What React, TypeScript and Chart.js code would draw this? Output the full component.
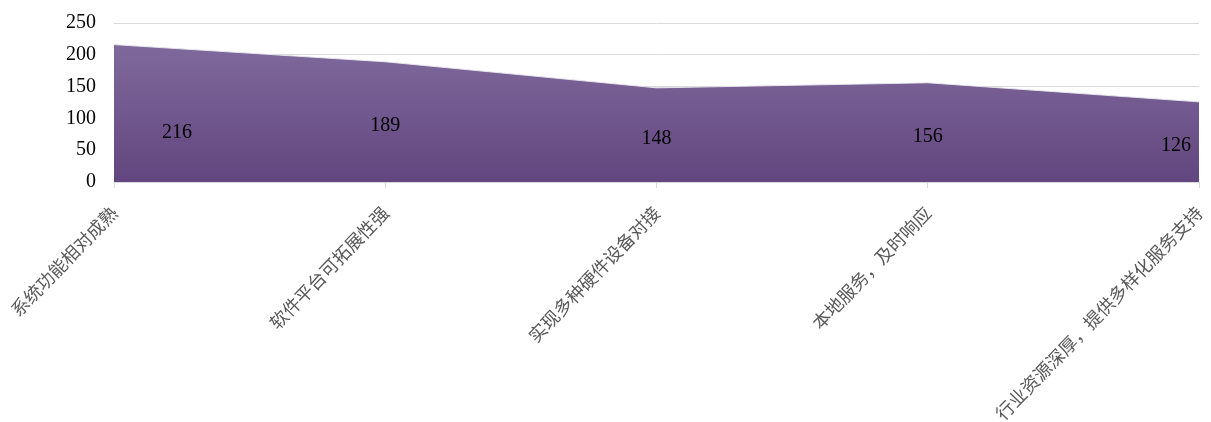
import React, { useEffect, useRef } from "react";
import { Chart, registerables } from "chart.js";

Chart.register(...registerables);

const categories = [
  "系统功能相对成熟",
  "软件平台可拓展性强",
  "实现多种硬件设备对接",
  "本地服务，及时响应",
  "行业资源深厚，提供多样化服务支持",
];
const values = [216, 189, 148, 156, 126];
const yTicks = [0, 50, 100, 150, 200, 250];

const valueLabelPlugin = {
  id: "valueLabels",
  afterDatasetsDraw(chart: any) {
    const { ctx, chartArea } = chart;
    const meta = chart.getDatasetMeta(0);
    const yScale = chart.scales.y;
    ctx.save();
    ctx.font = '20px "Liberation Serif", "Times New Roman", serif';
    ctx.fillStyle = "#000000";
    ctx.textAlign = "center";
    ctx.textBaseline = "middle";
    meta.data.forEach((pt: any, i: number) => {
      const v = values[i];
      const text = String(v);
      const w = ctx.measureText(text).width;
      let x = pt.x;
      let y = (yScale.getPixelForValue(v) + yScale.getPixelForValue(0)) / 2 + 4;
      if (i === 0) {
        x = pt.x + 63;
        y = (yScale.getPixelForValue(v * 0.72) + yScale.getPixelForValue(0)) / 2;
      }
      x = Math.min(x, chartArea.right - w / 2 - 8);
      ctx.fillText(text, x, y);
    });
    ctx.restore();
  },
};

export default function App() {
  const ref = useRef<HTMLCanvasElement | null>(null);
  useEffect(() => {
    document.body.style.margin = "0";
    const canvas = ref.current!;
    const chart = new Chart(canvas, {
      type: "line",
      data: {
        labels: categories,
        datasets: [
          {
            data: values,
            fill: "origin",
            borderWidth: 1,
            borderColor: "rgba(235,235,240,0.9)",
            pointRadius: 0,
            tension: 0,
            backgroundColor: (c: any) => {
              const area = c.chart.chartArea;
              if (!area) return "#72588f";
              const g = c.chart.ctx.createLinearGradient(0, area.top, 0, area.bottom);
              g.addColorStop(0, "#846fa1");
              g.addColorStop(1, "#62467f");
              return g;
            },
          },
        ],
      },
      options: {
        animation: false,
        responsive: false,
        maintainAspectRatio: false,
        layout: { padding: { top: 23, right: 12, left: 0, bottom: 0 } },
        plugins: {
          legend: { display: false },
          tooltip: { enabled: false },
        },
        scales: {
          x: {
            offset: false,
            grid: {
              display: true,
              drawOnChartArea: false,
              drawTicks: true,
              tickLength: 6,
              color: "#d9d9d9",
            },
            border: { display: true, color: "#d9d9d9", width: 1 },
            ticks: {
              autoSkip: false,
              maxRotation: 46,
              minRotation: 46,
              color: "#595959",
              padding: 14,
              font: { family: '"Noto Sans CJK SC", sans-serif', size: 18 },
            },
            afterFit: (s: any) => {
              s.height = 240;
              s.paddingLeft = 0;
              s.paddingRight = 0;
            },
          },
          y: {
            min: 0,
            max: 250,
            afterBuildTicks: (s: any) => {
              s.ticks = yTicks.map((v) => ({ value: v }));
            },
            grid: { color: "#d9d9d9", drawTicks: false, lineWidth: 1 },
            border: { display: false },
            ticks: {
              color: "#000000",
              padding: 18,
              font: { family: '"Liberation Serif", "Times New Roman", serif', size: 20 },
            },
            afterFit: (s: any) => {
              s.width = 114;
              s.paddingTop = 0;
              s.paddingBottom = 0;
            },
          },
        },
      },
      plugins: [valueLabelPlugin],
    });
    return () => chart.destroy();
  }, []);
  return (
    <div style={{ width: 1211, height: 422 }}>
      <canvas ref={ref} width={1211} height={422} style={{ display: "block" }} />
    </div>
  );
}
